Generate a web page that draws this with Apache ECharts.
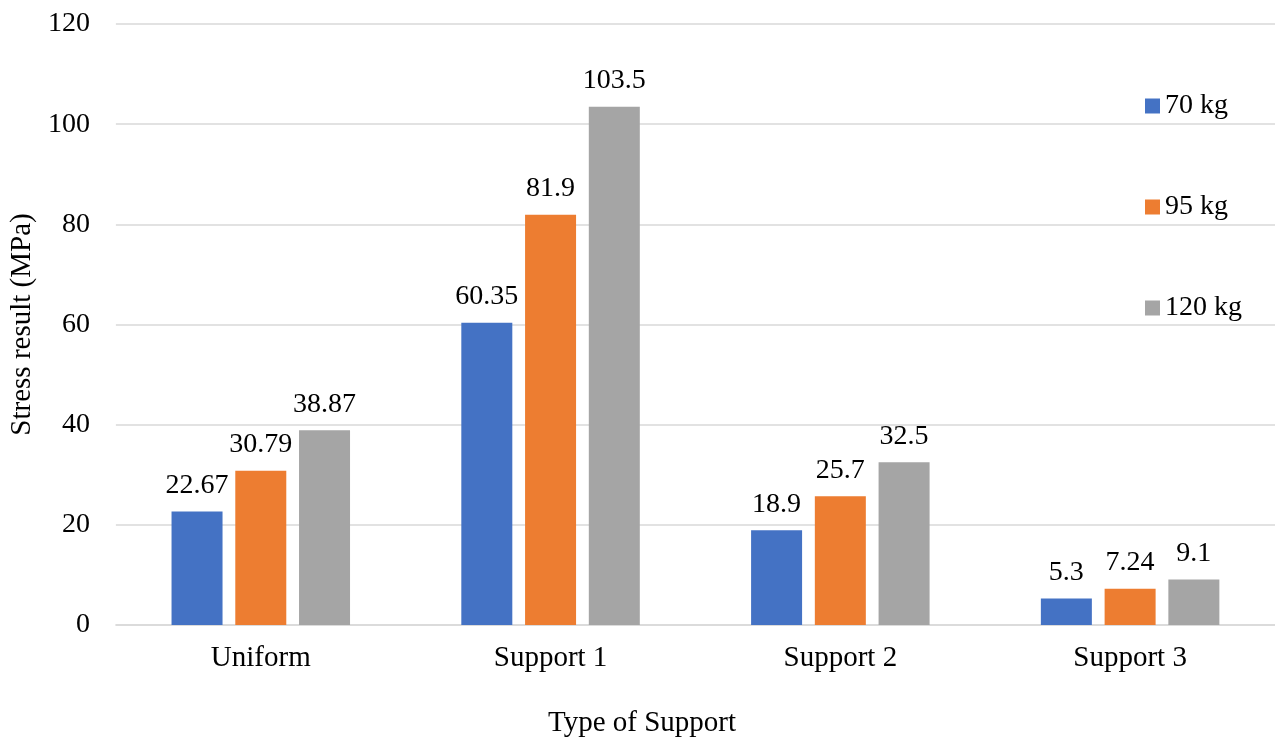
<!DOCTYPE html>
<html>
<head>
<meta charset="utf-8">
<script src="https://cdn.jsdelivr.net/npm/echarts@6/dist/echarts.min.js"></script>
<style>
  html, body { margin: 0; padding: 0; background: #fff; }
  #chart { width: 1275px; height: 738px; }
</style>
</head>
<body>
<div id="chart"></div>
<script>
// Stress results per support type and load
const categories = ['Uniform', 'Support 1', 'Support 2', 'Support 3'];
const seriesNames = ['70 kg', '95 kg', '120 kg'];
const load70 = [22.67, 60.35, 18.9, 5.3];
const load95 = [30.79, 81.9, 25.7, 7.24];
const load120 = [38.87, 103.5, 32.5, 9.1];
const colors = ['#4472C4', '#ED7D31', '#A5A5A5'];

const FONT = '"Liberation Serif", "Times New Roman", serif';
const FS = 28;
const FS_AXIS = 29;

const chart = echarts.init(document.getElementById('chart'));

function barSeries(name, data, color) {
  return {
    name: name,
    type: 'bar',
    data: data,
    barWidth: 51,
    barGap: '25%',
    itemStyle: { color: color },
    label: {
      show: true,
      position: 'top',
      distance: 12,
      color: '#000',
      fontFamily: FONT,
      fontSize: FS
    }
  };
}

chart.setOption({
  animation: false,
  backgroundColor: '#fff',
  textStyle: { fontFamily: FONT },
  grid: { left: 114, right: 0, top: 24, bottom: 113 },
  legend: {
    orient: 'vertical',
    left: 1140,
    top: 87,
    itemWidth: 15,
    itemHeight: 15,
    itemGap: 73,
    icon: 'rect',
    data: seriesNames,
    textStyle: { fontFamily: FONT, fontSize: FS, color: '#000' }
  },
  xAxis: {
    type: 'category',
    data: categories,
    axisLine: { show: true, lineStyle: { color: '#d9d9d9', width: 1.5 } },
    axisTick: { show: false },
    axisLabel: { margin: 19, color: '#000', fontFamily: FONT, fontSize: FS_AXIS }
  },
  yAxis: {
    type: 'value',
    min: 0,
    max: 120,
    interval: 20,
    name: 'Stress result (MPa)',
    nameLocation: 'middle',
    nameGap: 78,
    nameTextStyle: { color: '#000', fontFamily: FONT, fontSize: FS_AXIS },
    axisLine: { show: false },
    axisTick: { show: false },
    axisLabel: { margin: 26, color: '#000', fontFamily: FONT, fontSize: FS },
    splitLine: { lineStyle: { color: '#d9d9d9', width: 1.5 } }
  },
  graphic: [{
    type: 'text',
    x: 642,
    y: 723,
    style: {
      text: 'Type of Support',
      fill: '#000',
      font: FS_AXIS + 'px ' + FONT,
      align: 'center',
      verticalAlign: 'middle'
    }
  }],
  series: [
    barSeries(seriesNames[0], load70, colors[0]),
    barSeries(seriesNames[1], load95, colors[1]),
    barSeries(seriesNames[2], load120, colors[2])
  ]
});
</script>
</body>
</html>
